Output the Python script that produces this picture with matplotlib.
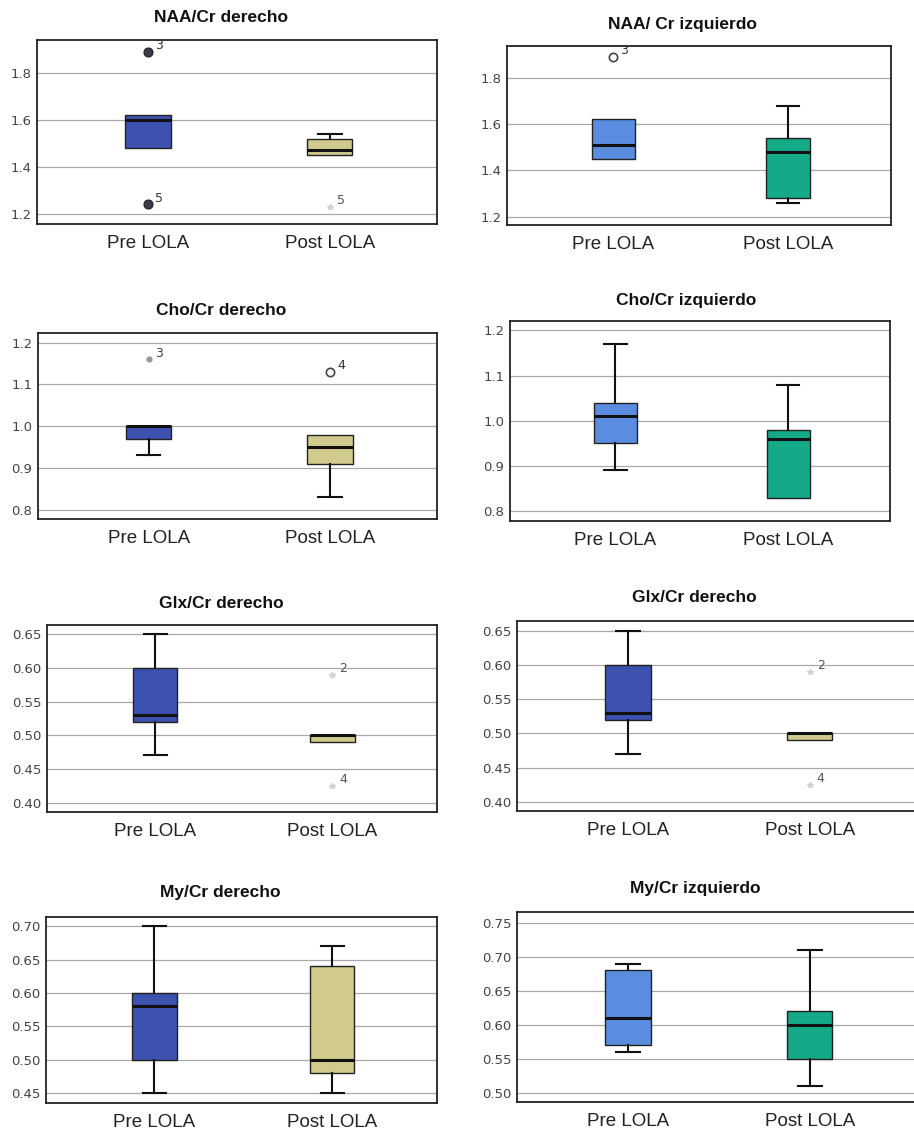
import matplotlib
matplotlib.use("Agg")
import matplotlib.pyplot as plt

# ---------------- data ----------------
groups = ["Pre LOLA", "Post LOLA"]
titles = ["NAA/Cr derecho", "NAA/ Cr izquierdo",
          "Cho/Cr derecho", "Cho/Cr izquierdo",
          "Glx/Cr derecho", "Glx/Cr derecho",
          "My/Cr derecho", "My/Cr izquierdo"]

# per panel: [pre, post]
q1 = [[1.48, 1.45], [1.45, 1.28], [0.97, 0.91], [0.95, 0.83],
      [0.52, 0.49], [0.52, 0.49], [0.50, 0.48], [0.57, 0.55]]
med = [[1.60, 1.47], [1.51, 1.48], [1.00, 0.95], [1.01, 0.96],
       [0.53, 0.50], [0.53, 0.50], [0.58, 0.50], [0.61, 0.60]]
q3 = [[1.62, 1.52], [1.62, 1.54], [1.00, 0.98], [1.04, 0.98],
      [0.60, 0.50], [0.60, 0.50], [0.60, 0.64], [0.68, 0.62]]
whislo = [[1.48, 1.45], [1.45, 1.26], [0.93, 0.83], [0.89, 0.83],
          [0.47, 0.49], [0.47, 0.49], [0.45, 0.45], [0.56, 0.51]]
whishi = [[1.62, 1.54], [1.62, 1.68], [1.00, 0.98], [1.17, 1.08],
          [0.65, 0.50], [0.65, 0.50], [0.70, 0.67], [0.69, 0.71]]
# outliers: (group index, value, case label, marker kind)
outliers = [
    [(0, 1.89, "3", "dark"), (0, 1.24, "5", "dark"), (1, 1.23, "5", "faint")],
    [(0, 1.89, "3", "open")],
    [(0, 1.16, "3", "dot"), (1, 1.13, "4", "open")],
    [],
    [(1, 0.59, "2", "faint"), (1, 0.425, "4", "faint")],
    [(1, 0.59, "2", "faint"), (1, 0.425, "4", "faint")],
    [],
    [],
]
yticks = [[1.2, 1.4, 1.6, 1.8], [1.2, 1.4, 1.6, 1.8],
          [0.8, 0.9, 1.0, 1.1, 1.2], [0.8, 0.9, 1.0, 1.1, 1.2],
          [0.40, 0.45, 0.50, 0.55, 0.60, 0.65], [0.40, 0.45, 0.50, 0.55, 0.60, 0.65],
          [0.45, 0.50, 0.55, 0.60, 0.65, 0.70], [0.50, 0.55, 0.60, 0.65, 0.70, 0.75]]
ytick_fmt = ["{:.1f}", "{:.1f}", "{:.1f}", "{:.1f}",
             "{:.2f}", "{:.2f}", "{:.2f}", "{:.2f}"]
ylims = [(1.157, 1.94), (1.164, 1.937), (0.778, 1.223), (0.778, 1.221),
         (0.386, 0.664), (0.387, 0.664), (0.435, 0.714), (0.486, 0.766)]

# ---------------- style / layout ----------------
W, H = 914, 1131
colors_right = ["#3c51b0", "#d0ca8c"]
colors_left = ["#5a8de0", "#14a987"]
panel_colors = [colors_right, colors_left, colors_right, colors_left,
                colors_right, colors_right, colors_right, colors_left]

axes_px = [(37, 40, 437, 224), (507, 46, 891, 225),
           (38, 333, 437, 519), (510, 321, 890, 521),
           (47, 625, 437, 812), (517, 621, 917, 811),
           (46, 917, 437, 1103), (517, 912, 917, 1102)]
title_px = [(221, 17), (682, 25), (221, 310), (686, 300),
            (221, 603), (694, 597), (220, 893), (695, 889)]

fig = plt.figure(figsize=(W / 100, H / 100), dpi=100)
fig.patch.set_facecolor("white")

for i in range(8):
    x0, y0, x1, y1 = axes_px[i]
    ax = fig.add_axes([x0 / W, 1 - y1 / H, (x1 - x0) / W, (y1 - y0) / H])
    stats = []
    for g in range(2):
        stats.append(dict(label=groups[g], med=med[i][g], q1=q1[i][g], q3=q3[i][g],
                          whislo=whislo[i][g], whishi=whishi[i][g], fliers=[]))
    bp = ax.bxp(stats, positions=[1, 2], widths=0.25, patch_artist=True,
                showfliers=False,
                boxprops=dict(edgecolor="#222222", linewidth=1.0),
                medianprops=dict(color="#111111", linewidth=2.2),
                whiskerprops=dict(color="#111111", linewidth=1.5),
                capprops=dict(color="#111111", linewidth=1.5),
                capwidths=0.13)
    for patch, c in zip(bp["boxes"], panel_colors[i]):
        patch.set_facecolor(c)
    # hide caps of zero-length whiskers
    for g in range(2):
        if whislo[i][g] >= q1[i][g]:
            bp["caps"][2 * g].set_visible(False)
            bp["whiskers"][2 * g].set_visible(False)
        if whishi[i][g] <= q3[i][g]:
            bp["caps"][2 * g + 1].set_visible(False)
            bp["whiskers"][2 * g + 1].set_visible(False)
    # outliers
    for (g, v, lab, kind) in outliers[i]:
        pos = g + 1
        if kind == "dark":
            ax.plot(pos, v, "o", ms=6.5, mfc="#3a3a48", mec="#222222", mew=0.8, zorder=4)
            col = "#333333"
        elif kind == "open":
            ax.plot(pos, v, "o", ms=6, mfc="white", mec="#444444", mew=1.2, zorder=4)
            col = "#333333"
        elif kind == "dot":
            ax.plot(pos, v, "o", ms=3.5, mfc="#999999", mec="#999999", zorder=4)
            col = "#444444"
        else:
            ax.plot(pos, v, "*", ms=4, mfc="#d8d8d8", mec="#d0d0d0", zorder=4)
            col = "#555555"
        ax.annotate(lab, (pos, v), xytext=(5, 2), textcoords="offset points",
                    fontsize=9, color=col, family="DejaVu Sans")
    ax.set_xlim(0.39, 2.59)
    ax.set_ylim(*ylims[i])
    ax.set_yticks(yticks[i])
    ax.set_yticklabels([ytick_fmt[i].format(t) for t in yticks[i]],
                       fontsize=9.5, color="#444444", family="DejaVu Sans")
    ax.set_xticks([1, 2])
    ax.set_xticklabels(groups, fontsize=13.5, family="Liberation Sans", color="#222222")
    ax.tick_params(axis="both", length=0)
    ax.tick_params(axis="y", pad=4)
    ax.tick_params(axis="x", pad=8)
    ax.yaxis.grid(True, color="#a8a8a8", linewidth=0.9)
    ax.set_axisbelow(True)
    for s in ax.spines.values():
        s.set_color("#222222")
        s.set_linewidth(1.3)
    tx, ty = title_px[i]
    fig.text(tx / W, 1 - ty / H, titles[i], ha="center", va="center",
             fontsize=12.5, fontweight="bold", family="Liberation Sans", color="#111111")

fig.savefig("out.png", dpi=100, facecolor="white")
